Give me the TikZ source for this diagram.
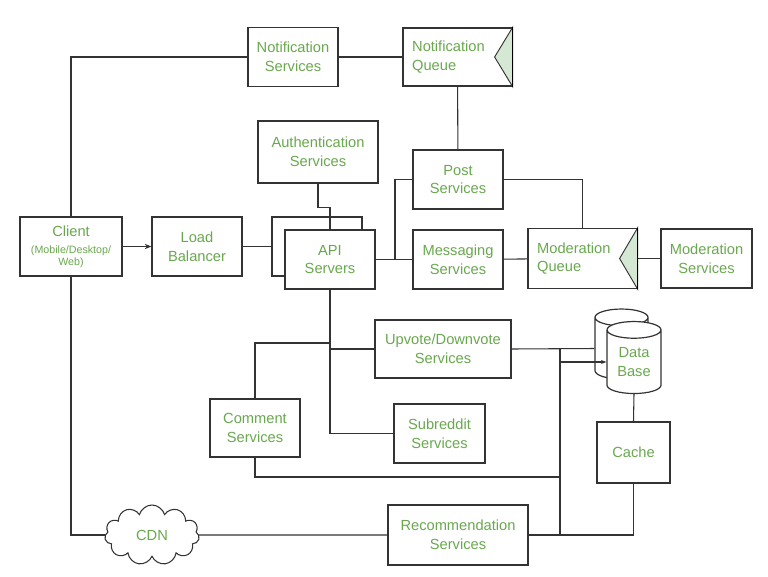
\documentclass[tikz,border=0pt]{standalone}
\usepackage{fontspec}
\setmainfont{Liberation Sans}
\usetikzlibrary{shapes.geometric,shapes.symbols,arrows.meta,calc}
\definecolor{txtgreen}{RGB}{106,168,79}
\definecolor{qgreen}{RGB}{213,232,212}
\definecolor{lnclr}{RGB}{51,51,51}
\newcommand{\subtxt}[1]{{\fontsize{8}{9}\selectfont #1}}

\begin{document}
\begin{tikzpicture}[x=0.75pt,y=0.75pt,yscale=-1,
  box/.style={draw=lnclr, line width=0.9pt, fill=white, text=txtgreen, align=center, inner sep=0pt,
    font=\fontsize{11}{14}\selectfont, minimum width=67.5pt, minimum height=44.25pt},
  queue/.style={box, align=left, text width=68pt, minimum width=81.75pt},
  qtri/.style={draw=lnclr, line width=0.7pt, fill=qgreen},
  dbcyl/.style={draw=lnclr, line width=0.9pt, fill=white, text=txtgreen, align=center, inner sep=0pt,
    font=\fontsize{11}{14}\selectfont, cylinder, shape border rotate=90, aspect=0.5},
  link/.style={draw=lnclr, line width=0.8pt}]
\useasboundingbox (0,0) rectangle (768,576);

%Shape: Rectangle [client, balancer, api]
\node[box, minimum width=76.5pt] (client) at (71,246.5) {Client\\[-1.5pt]\subtxt{(Mobile/Desktop/}\\[-5pt]\subtxt{Web)}};
\node[box] (lb) at (197,246.5) {Load\\Balancer};
\node[box] (apiback) at (317,246.5) {};
\node[box] (api) at (330,259.5) {API\\Servers};

%Shape: Rectangle [top row]
\node[box] (notifsvc) at (293,57) {Notification\\Services};
\node[queue, minimum height=43.5pt] (notifq) at (457.5,57) {Notification\\Queue};
\node[box, minimum width=90pt, minimum height=46.5pt] (auth) at (318,152) {Authentication\\Services};
\node[box] (post) at (458,179.5) {Post\\Services};

%Shape: Rectangle [middle row]
\node[box] (msg) at (458,259.5) {Messaging\\Services};
\node[queue, minimum height=45pt] (modq) at (582.5,258.5) {Moderation\\Queue};
\node[box, minimum width=68.25pt] (modsvc) at (706.5,258.5) {Moderation\\Services};

%Shape: Rectangle [lower services]
\node[box, minimum width=102pt, minimum height=43.5pt] (upvote) at (443,349) {Upvote/Downvote\\Services};
\node[box, minimum height=43.5pt] (comment) at (255,428) {Comment\\Services};
\node[box, minimum width=68.25pt] (subreddit) at (439.5,433.5) {Subreddit\\Services};
\node[box, minimum width=54.75pt, minimum height=45.75pt] (cache) at (633.5,452.5) {Cache};
\node[box, minimum width=105pt, minimum height=45pt] (recommend) at (458,535) {Recommendation\\Services};

%Shape: Can [database]
\node[dbcyl, minimum width=39.75pt, minimum height=52.5pt] (dbback) at (621.5,348.5) {\phantom{Data}\\\phantom{Base}};
\node[dbcyl, minimum width=40.5pt, minimum height=54pt] (dbfront) at (634,362) {Data\\Base};

%Shape: Cloud [cdn]
\node[cloud, cloud puffs=11, aspect=1.6, draw=lnclr, line width=0.8pt, fill=white, text=txtgreen,
  font=\fontsize{11}{14}\selectfont, minimum width=71pt, minimum height=45pt, inner sep=0pt] (cdn) at (152,535) {CDN};

%Shape: Triangle [queue heads]
\draw[qtri] (notifq.north east) -- ($(notifq.east)+(-18,0)$) -- (notifq.south east) -- cycle;
\draw[qtri] (modq.north east) -- ($(modq.east)+(-18,0)$) -- (modq.south east) -- cycle;
\draw[draw=black, line width=1.2pt] (notifq.north east) -- (notifq.south east);
\draw[draw=black, line width=1.2pt] (modq.north east) -- (modq.south east);

%Straight Lines
\coordinate (j1) at (395,259.5);
\coordinate (c1) at (330,343);
\coordinate (j2) at (560,349);
\coordinate (j3) at (560,477);
\draw[link, -{Stealth[length=5pt,width=4pt]}] (client) -- (lb);
\draw[link] (lb) -- (apiback);
\draw[link] (client.north) |- (notifsvc.west);
\draw[link] (notifsvc) -- (notifq);
\draw[link] (notifq) -- (post);
\draw[link] (auth.south) -- ++(0,24) -| (api.north);
\draw[link] (api) -- (msg);
\draw[link] (post.west) -| (j1);
\draw[link] (post.east) -| (modq.north);
\draw[link] (msg) -- (modq);
\draw[link] (modq.east) -- (modsvc.west);
\draw[link] (api.south) |- (subreddit.west);
\draw[link] (api.south |- upvote.west) -- (upvote.west);
\draw[link] (comment.north) |- (c1);
\draw[link] (upvote.east) -- (dbback.west);
\draw[link] (j2) -- (j2 |- recommend.east);
\draw[link, -{Stealth[length=4pt,width=3pt]}] (j2 |- dbfront.west) -- (dbfront.west);
\draw[link] (comment.south) |- (j3);
\draw[link] (dbfront.south) -- (cache.north);
\draw[link] (cache.south) |- (recommend.east);
\draw[link] (client.south) |- (cdn.west);
\draw[link] (cdn) -- (recommend);

\end{tikzpicture}
\end{document}
